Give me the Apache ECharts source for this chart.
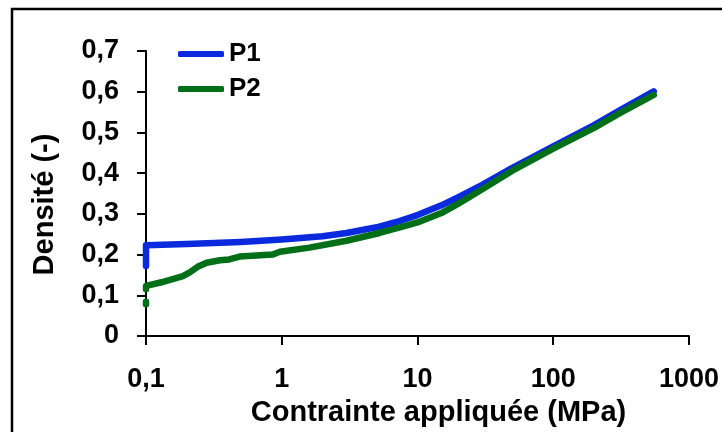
<!DOCTYPE html>
<html>
<head>
<meta charset="utf-8">
<script src="https://cdn.jsdelivr.net/npm/echarts@6/dist/echarts.min.js"></script>
<style>
html, body { margin: 0; padding: 0; background: #fff; }
#main { width: 722px; height: 432px; }
</style>
</head>
<body>
<div id="main"></div>
<script>
var seriesNames = ['P1', 'P2'];

// contrainte (MPa), densite (-)
var p1Data = [
	[0.1, 0.172], [0.1, 0.2], [0.1, 0.223], [0.2, 0.226], [0.5, 0.231],
	[1, 0.237], [2, 0.245], [3, 0.253], [5, 0.267], [7, 0.28],
	[10, 0.297], [15, 0.321], [20, 0.341], [30, 0.371], [50, 0.413],
	[100, 0.466], [200, 0.518], [300, 0.552], [550, 0.601]
];

var p2Data = [
	[0.1, 0.078], [0.1, 0.084], '-',
	[0.1, 0.115], [0.1, 0.123], [0.13, 0.132], [0.187, 0.147], [0.21, 0.156],
	[0.24, 0.17], [0.28, 0.18], [0.35, 0.186], [0.41, 0.188], [0.49, 0.195],
	[0.86, 0.2], [0.97, 0.207], [1.6, 0.217], [3, 0.234], [5.25, 0.253],
	[8, 0.27], [10, 0.279], [15, 0.302], [20, 0.325], [28.6, 0.356],
	[50, 0.406], [100, 0.46], [200, 0.511], [300, 0.545], [550, 0.592]
];

var font = "'Liberation Sans', Arial, sans-serif";

var myChart = echarts.init(document.getElementById('main'));

option = {
	backgroundColor: '#fff',
	animation: false,
	graphic: [{
		type: 'rect',
		shape: { x: 12, y: 9, width: 730, height: 440 },
		style: { fill: 'none', stroke: '#000', lineWidth: 2.5 },
		silent: true
	}],
	legend: {
		data: seriesNames,
		orient: 'vertical',
		left: 173,
		top: 36,
		icon: 'roundRect',
		itemWidth: 46,
		itemHeight: 6,
		itemGap: 9,
		textStyle: {
			fontFamily: font,
			fontSize: 26,
			fontWeight: 'bold',
			color: '#000'
		}
	},
	grid: {
		left: 146,
		top: 51,
		right: 31,
		bottom: 95
	},
	xAxis: {
		type: 'log',
		logBase: 10,
		min: 0.1,
		max: 1000,
		name: 'Contrainte appliquée (MPa)',
		nameLocation: 'middle',
		nameGap: 62,
		nameTextStyle: {
			fontFamily: font,
			fontSize: 29,
			fontWeight: 'bold',
			color: '#000',
			padding: [0, 0, 0, 42]
		},
		axisLine: { show: true, lineStyle: { color: '#000', width: 2 } },
		axisTick: { show: true, length: 9, lineStyle: { color: '#000', width: 2 } },
		minorTick: { show: false },
		splitLine: { show: false },
		axisLabel: {
			margin: 30,
			fontFamily: font,
			fontSize: 27,
			fontWeight: 'bold',
			color: '#000',
			formatter: function (v) {
				return String(+v.toPrecision(3)).replace('.', ',');
			}
		}
	},
	yAxis: {
		type: 'value',
		min: 0,
		max: 0.7,
		interval: 0.1,
		name: 'Densité (-)',
		nameLocation: 'middle',
		nameGap: 87,
		nameTextStyle: {
			fontFamily: font,
			fontSize: 29,
			fontWeight: 'bold',
			color: '#000',
			padding: [0, 22, 0, 0]
		},
		axisLine: { show: true, lineStyle: { color: '#000', width: 2 } },
		axisTick: { show: true, length: 9, lineStyle: { color: '#000', width: 2 } },
		splitLine: { show: false },
		axisLabel: {
			margin: 27,
			fontFamily: font,
			fontSize: 27,
			fontWeight: 'bold',
			color: '#000',
			formatter: function (v) {
				return v === 0 ? '0' : v.toFixed(1).replace('.', ',');
			}
		}
	},
	series: [{
		name: seriesNames[0],
		type: 'line',
		symbol: 'none',
		color: '#0b2ade',
		lineStyle: { width: 6.5, cap: 'round', join: 'round' },
		data: p1Data
	}, {
		name: seriesNames[1],
		type: 'line',
		symbol: 'none',
		color: '#006f18',
		connectNulls: false,
		lineStyle: { width: 6.5, cap: 'round', join: 'round' },
		data: p2Data
	}]
};

myChart.setOption(option);
</script>
</body>
</html>
